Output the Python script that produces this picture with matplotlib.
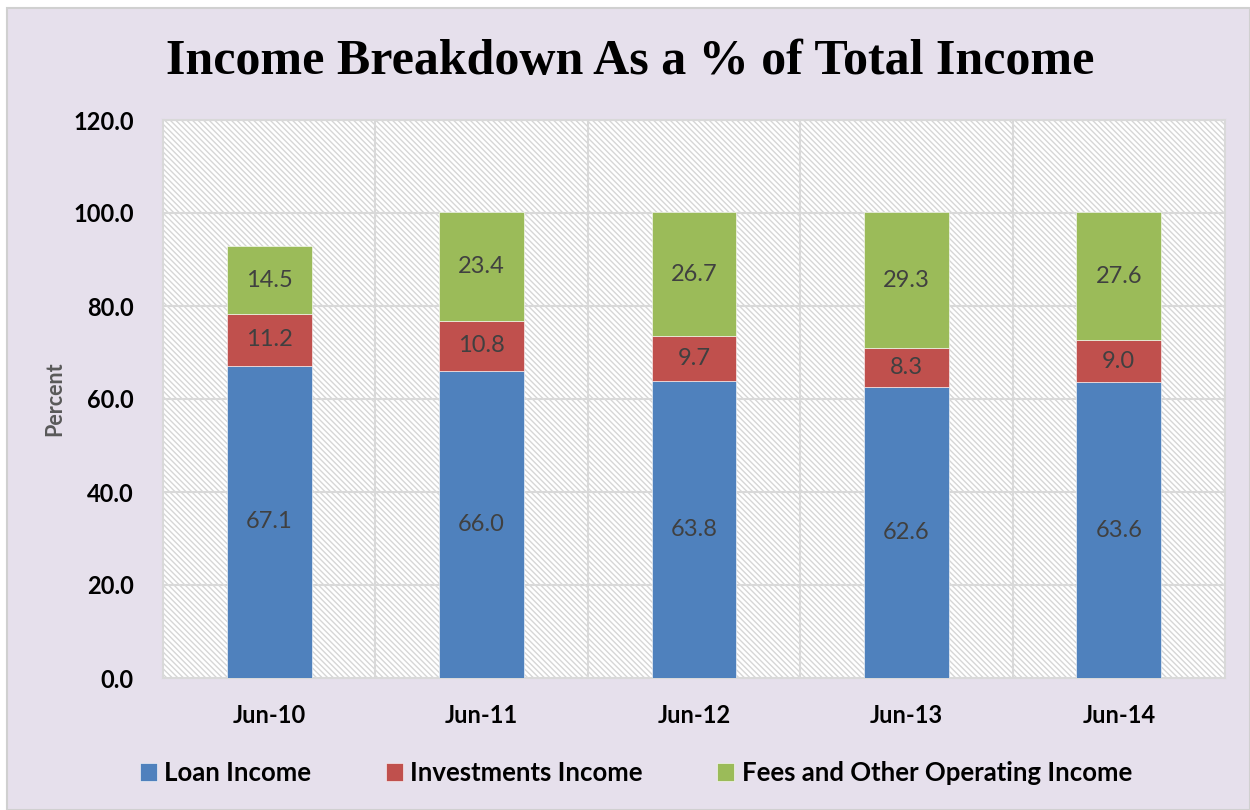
import matplotlib
matplotlib.use("Agg")
from matplotlib import pyplot as plt
from matplotlib.patches import Rectangle
import numpy as np

# data
periods = ['Jun-10', 'Jun-11', 'Jun-12', 'Jun-13', 'Jun-14']
loan = [67.1, 66.0, 63.8, 62.6, 63.6]
invest = [11.2, 10.8, 9.7, 8.3, 9.0]
fees = [14.5, 23.4, 26.7, 29.3, 27.6]
series_names = ['Loan Income', 'Investments Income', 'Fees and Other Operating Income']
yticks = [0, 20, 40, 60, 80, 100, 120]

colors = ['#4F81BD', '#C0504D', '#9BBB59']
bg = '#E6E0EC'
grid_c = '#D9D9D9'
lbl_font = 'Lato'

plt.rcParams['hatch.linewidth'] = 1.0

fig = plt.figure(figsize=(12.5, 8.1), dpi=100)
fig.patch.set_facecolor('white')
# lavender chart area with thin grey frame
fig.patches.append(Rectangle((7 / 1250, 0), 1 - 7 / 1250, 1 - 8 / 810, transform=fig.transFigure,
                             facecolor=bg, edgecolor='#D0D0D0', linewidth=1.5, zorder=-10))

ax = fig.add_axes([163 / 1250, 1 - 678 / 810, (1225 - 163) / 1250, (678 - 120) / 810])
ax.set_facecolor('white')
# hatched plot area
ax.add_patch(Rectangle((0, 0), 1, 1, transform=ax.transAxes, facecolor='white',
                       edgecolor='#D6D6D6', linewidth=0, hatch='\\' * 6, zorder=0))

x = np.arange(len(periods))
bottom = np.zeros(len(periods))
for vals, col, name in zip([loan, invest, fees], colors, series_names):
    vals = np.array(vals)
    ax.bar(x, vals, 0.4, bottom=bottom, color=col, label=name, zorder=3,
           edgecolor='white', linewidth=0.4)
    for xi, b, v in zip(x, bottom, vals):
        ax.text(xi, b + v / 2, f'{v:.1f}', ha='center', va='center', fontsize=17,
                color='#404040', family=lbl_font, zorder=4)
    bottom = bottom + vals

ax.set_xlim(-0.5, len(periods) - 0.5)
ax.set_ylim(0, 120)
ax.set_yticks(yticks)
ax.set_yticklabels([f'{t:.1f}' for t in yticks], fontsize=17, fontweight='bold', family=lbl_font)
ax.set_xticks(x)
ax.set_xticklabels(periods, fontsize=17, fontweight='bold', family=lbl_font)
ax.tick_params(axis='both', length=0)
ax.tick_params(axis='y', pad=21)
ax.tick_params(axis='x', pad=19)

# grid lines: horizontal at ticks, vertical between categories
for t in yticks[1:]:
    ax.axhline(t, color=grid_c, linewidth=1.5, zorder=1)
for b in np.arange(0.5, len(periods) - 1, 1):
    ax.axvline(b, color=grid_c, linewidth=1.5, zorder=1)
for s in ax.spines.values():
    s.set_color(grid_c)
    s.set_linewidth(1.5)

ax.set_ylabel('Percent', fontsize=15.5, fontweight='bold', color='#595959', family=lbl_font, labelpad=6)

fig.text(630 / 1250, 1 - 62 / 810, 'Income Breakdown As a % of Total Income', ha='center', va='center',
         fontsize=36, fontweight='bold', family='Liberation Serif')

leg = fig.legend(*ax.get_legend_handles_labels(), loc='center', bbox_to_anchor=(636 / 1250, 1 - 773 / 810),
                 ncol=3, frameon=False, prop={'family': lbl_font, 'weight': 'bold', 'size': 18.5},
                 handlelength=0.65, handleheight=0.65, handletextpad=0.3, columnspacing=2.9)

fig.savefig('out.png', dpi=100, facecolor=fig.get_facecolor())
